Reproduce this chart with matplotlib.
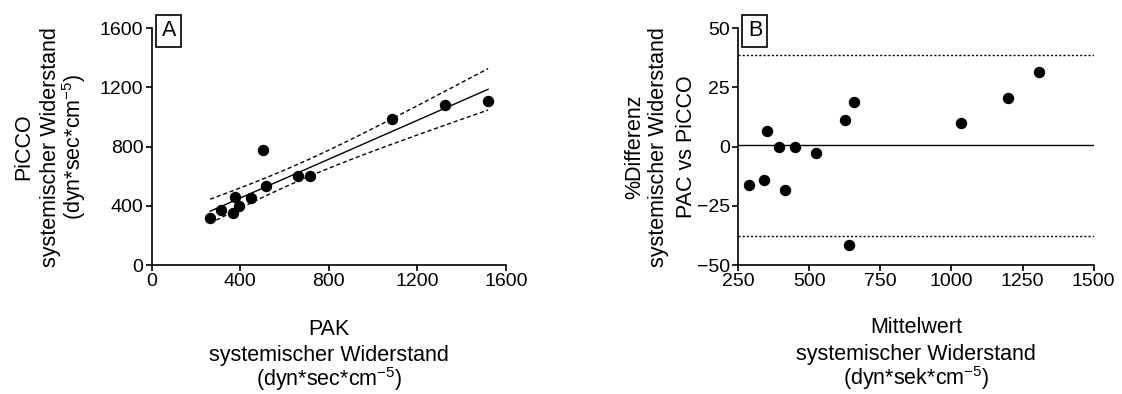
import numpy as np
import matplotlib.pyplot as plt

plt.rcParams['font.family'] = ['Liberation Sans', 'DejaVu Sans']
plt.rcParams['mathtext.fontset'] = 'custom'
plt.rcParams['mathtext.rm'] = 'Liberation Sans'
plt.rcParams['mathtext.it'] = 'Liberation Sans'

# Panel A: PAK vs PiCCO systemischer Widerstand
pak = [264, 315, 365, 374, 393, 447, 502, 517, 662, 716, 1084, 1323, 1519]
picco = [318, 372, 349, 457, 401, 455, 777, 536, 599, 601, 986, 1081, 1108]

# Panel B: Bland-Altman (Mittelwert vs %Differenz)
mittelwert = [289, 340, 352, 394, 413, 449, 524, 626, 638, 656, 1034, 1200, 1309]
differenz = [-16.1, -14.2, 6.5, 0.0, -18.3, 0.0, -2.5, 11.3, -41.6, 19.0, 10.0, 20.7, 31.7]

xlab_A = ['PAK', 'systemischer Widerstand', '(dyn*sec*cm$^{-5}$)']
ylab_A = ['PiCCO', 'systemischer Widerstand', '(dyn*sec*cm$^{-5}$)']
xlab_B = ['Mittelwert', 'systemischer Widerstand', '(dyn*sek*cm$^{-5}$)']
ylab_B = ['%Differenz', 'systemischer Widerstand', 'PAC vs PiCCO']

fig = plt.figure(figsize=(11.22, 3.94), dpi=100)
axA = fig.add_axes([0.1352, 0.3274, 0.3158, 0.6008])
axB = fig.add_axes([0.658, 0.3274, 0.3167, 0.6008])

fs_tick = 14
fs_lab = 15.5
px = 0.72  # Pixel -> Punkte


def mehrzeilig_x(ax, zeilen, offsets):
    for z, off in zip(zeilen, offsets):
        ax.annotate(z, xy=(0.5, 0), xycoords='axes fraction', xytext=(0, -off * px),
                    textcoords='offset points', ha='center', va='baseline', fontsize=fs_lab)


def mehrzeilig_y(ax, zeilen, offsets):
    for z, off in zip(zeilen, offsets):
        ax.annotate(z, xy=(0, 0.5), xycoords='axes fraction', xytext=(-off * px, 0),
                    textcoords='offset points', ha='center', va='baseline', fontsize=fs_lab,
                    rotation=90, rotation_mode='anchor')


# lineare Regression mit 95%-Konfidenzband
x = np.array(pak, dtype=float)
y = np.array(picco, dtype=float)
n = len(x)
slope, intercept = np.polyfit(x, y, 1)
resid = y - (slope * x + intercept)
s = np.sqrt(np.sum(resid ** 2) / (n - 2))
sxx = np.sum((x - x.mean()) ** 2)
t = 2.201  # t(0.975, df=11)
xs = np.linspace(x.min(), x.max(), 200)
yfit = slope * xs + intercept
band = t * s * np.sqrt(1.0 / n + (xs - x.mean()) ** 2 / sxx)

axA.plot(xs, yfit, color='black', lw=1)
axA.plot(xs, yfit + band, color='black', lw=1, ls=(0, (3, 2)))
axA.plot(xs, yfit - band, color='black', lw=1, ls=(0, (3, 2)))
axA.plot(pak, picco, 'o', color='black', ms=7.2, clip_on=False)
axA.set_xlim(0, 1600)
axA.set_ylim(0, 1600)
axA.set_xticks(np.arange(0, 1601, 400))
axA.set_yticks(np.arange(0, 1601, 400))
mehrzeilig_x(axA, xlab_A, [70, 96, 121])
mehrzeilig_y(axA, ylab_A, [122.7, 95.7, 70.7])

# Bland-Altman
d = np.array(differenz)
bias = d.mean()
sd = d.std(ddof=1)
axB.axhline(bias, color='black', lw=1)
axB.axhline(bias + 1.96 * sd, color='black', lw=1, ls=(0, (1.5, 1.5)))
axB.axhline(bias - 1.96 * sd, color='black', lw=1, ls=(0, (1.5, 1.5)))
axB.plot(mittelwert, differenz, 'o', color='black', ms=7.2, clip_on=False)
axB.set_xlim(250, 1500)
axB.set_ylim(-50, 50)
axB.set_xticks(np.arange(250, 1501, 250))
axB.set_yticks(np.arange(-50, 51, 25))
mehrzeilig_x(axB, xlab_B, [68, 95, 120])
mehrzeilig_y(axB, ylab_B, [98, 74, 46])

for ax, lab, bx in [(axA, 'A', 0.048), (axB, 'B', 0.047)]:
    for sp in ['top', 'right']:
        ax.spines[sp].set_visible(False)
    for sp in ['left', 'bottom']:
        ax.spines[sp].set_linewidth(1.2)
    ax.tick_params(direction='out', length=4, width=1.2, labelsize=fs_tick, pad=2)
    ax.text(bx, 0.989, lab, transform=ax.transAxes, fontsize=fs_lab, ha='center', va='center',
            bbox=dict(boxstyle='square,pad=0.25', fc='white', ec='black', lw=1.2))

fig.savefig('out.png', dpi=100)
